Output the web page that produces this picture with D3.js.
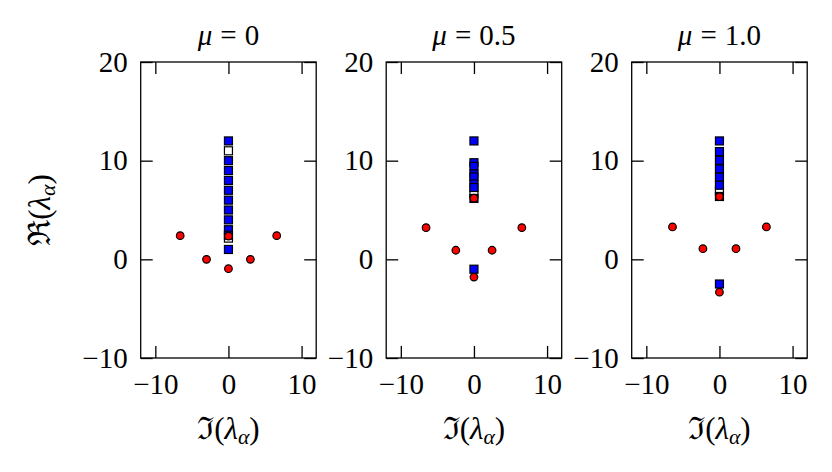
<!DOCTYPE html>
<html>
<head>
<meta charset="utf-8">
<script src="https://cdn.jsdelivr.net/npm/d3@7"></script>
<style>
  html, body { margin: 0; padding: 0; background: #fff; }
  svg { display: block; }
</style>
</head>
<body>
<svg id="chart" width="832" height="472"></svg>
<script>
// ---- data ----
const muLabels = ["0", "0.5", "1.0"];
const xTicks = [-10, 0, 10];
const yTicks = [-10, 0, 10, 20];
const xDomain = [-12, 12];
const yDomain = [-10, 20];

// squares lie on Im = 0
const blueRe_mu0  = [12, 10, 9, 8, 7, 6, 5, 4, 3, 2.45, 1];
const whiteRe_mu0 = [11, 2.15];
const redIm_mu0   = [-6.6, -3.0, 0, 0, 3.0, 6.6];
const redRe_mu0   = [2.4, 0.0, 2.35, -0.95, 0.0, 2.4];

const blueRe_mu05  = [12, 9.79, 9.43, 8.65, 8.35, 7.64, 7.28, 6.17, -1.0];
const whiteRe_mu05 = [6.65];
const redIm_mu05   = [-6.55, -2.48, 0, 0, 2.48, 6.55];
const redRe_mu05   = [3.21, 0.92, 6.2, -1.8, 0.92, 3.21];

const blueRe_mu1  = [12, 10.92, 10.04, 9.16, 8.32, 7.51, 6.37, -2.5];
const whiteRe_mu1 = [6.93];
const redIm_mu1   = [-6.42, -2.26, 0, 0, 2.26, 6.42];
const redRe_mu1   = [3.28, 1.08, 6.35, -3.33, 1.08, 3.28];

const panels = [
  { mu: muLabels[0], blue: blueRe_mu0,  white: whiteRe_mu0,  rIm: redIm_mu0,  rRe: redRe_mu0 },
  { mu: muLabels[1], blue: blueRe_mu05, white: whiteRe_mu05, rIm: redIm_mu05, rRe: redRe_mu05 },
  { mu: muLabels[2], blue: blueRe_mu1,  white: whiteRe_mu1,  rIm: redIm_mu1,  rRe: redRe_mu1 }
];

// ---- layout ----
const FONT = "'Liberation Serif', 'DejaVu Serif', serif";
const svg = d3.select("#chart");
const panelLeft0 = 140.7, panelW = 175.5, panelStep = 245.5;
const plotTop = 62, plotBottom = 358;
const fs = 29;
const lfs = 31;
const tickLen = 12;

const y = d3.scaleLinear().domain(yDomain).range([plotBottom, plotTop]);

panels.forEach((p, i) => {
  const left = panelLeft0 + i * panelStep;
  const x = d3.scaleLinear().domain(xDomain).range([left, left + panelW]);
  const g = svg.append("g");

  // ticks (inward, all four sides)
  const axB = g.append("g").attr("transform", `translate(0,${plotBottom})`)
    .call(d3.axisBottom(x).tickValues(xTicks).tickSize(-tickLen).tickSizeOuter(0).tickPadding(15));
  const axT = g.append("g").attr("transform", `translate(0,${plotTop})`)
    .call(d3.axisTop(x).tickValues(xTicks).tickSize(-tickLen).tickSizeOuter(0).tickFormat(""));
  const axL = g.append("g").attr("transform", `translate(${left},0)`)
    .call(d3.axisLeft(y).tickValues(yTicks).tickSize(-tickLen).tickSizeOuter(0).tickPadding(13));
  const axR = g.append("g").attr("transform", `translate(${left + panelW},0)`)
    .call(d3.axisRight(y).tickValues(yTicks).tickSize(-tickLen).tickSizeOuter(0).tickFormat(""));
  [axB, axT, axL, axR].forEach(a => {
    a.attr("font-size", fs).attr("font-family", FONT);
    a.select(".domain").remove();
    a.selectAll("line").attr("stroke", "#000").attr("stroke-width", 1.3);
    a.selectAll("text").style("font-size", fs + "px").style("font-family", FONT).attr("fill", "#000");
  });

  // frame
  g.append("rect").attr("x", left).attr("y", plotTop).attr("width", panelW).attr("height", plotBottom - plotTop)
    .attr("fill", "none").attr("stroke", "#000").attr("stroke-width", 1.3);

  const s = 8;
  // white squares
  g.selectAll("rect.w").data(p.white).enter().append("rect").attr("class", "w")
    .attr("x", x(0) - s / 2).attr("y", d => y(d) - s / 2).attr("width", s).attr("height", s)
    .attr("fill", "#fff").attr("stroke", "#000").attr("stroke-width", 1.2);
  // blue squares
  g.selectAll("rect.b").data(p.blue).enter().append("rect").attr("class", "b")
    .attr("x", x(0) - s / 2).attr("y", d => y(d) - s / 2).attr("width", s).attr("height", s)
    .attr("fill", "#0000ff").attr("stroke", "#000").attr("stroke-width", 1.2);
  // red circles
  g.selectAll("circle").data(p.rIm.map((im, k) => [im, p.rRe[k]])).enter().append("circle")
    .attr("cx", d => x(d[0])).attr("cy", d => y(d[1])).attr("r", 3.8)
    .attr("fill", "#ff0000").attr("stroke", "#000").attr("stroke-width", 1.2);

  const cx = left + panelW / 2;
  // title
  const t = g.append("text").attr("x", cx).attr("y", 45).attr("text-anchor", "middle")
    .style("font-size", fs + "px").style("font-family", FONT);
  t.append("tspan").attr("font-style", "italic").text("μ");
  t.append("tspan").attr("dx", 8).text("=");
  t.append("tspan").attr("dx", 8).text(p.mu);

  // x label
  const xl = g.append("text").attr("x", cx).attr("y", 439).attr("text-anchor", "middle")
    .style("font-size", lfs + "px").style("font-family", FONT);
  xl.append("tspan").text("ℑ(");
  xl.append("tspan").attr("font-style", "italic").text("λ");
  xl.append("tspan").attr("font-style", "italic").style("font-size", (lfs * 0.7) + "px").attr("dy", 5).text("α");
  xl.append("tspan").attr("dy", -5).text(")");
});

// y label
const yl = svg.append("text").attr("transform", "translate(50,210) rotate(-90)")
  .attr("text-anchor", "middle").style("font-size", lfs + "px").style("font-family", FONT);
yl.append("tspan").text("ℜ(");
yl.append("tspan").attr("font-style", "italic").text("λ");
yl.append("tspan").attr("font-style", "italic").style("font-size", (lfs * 0.7) + "px").attr("dy", 5).text("α");
yl.append("tspan").attr("dy", -5).text(")");
</script>
</body>
</html>
